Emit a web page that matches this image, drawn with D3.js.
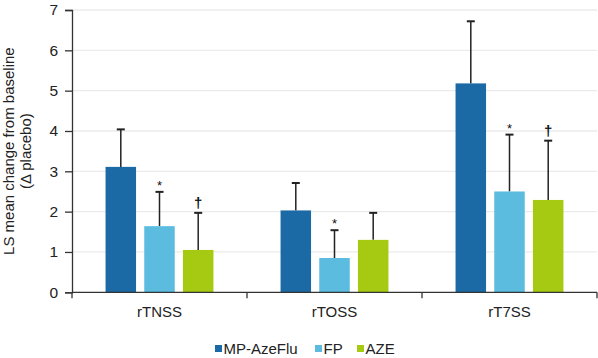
<!DOCTYPE html>
<html>
<head>
<meta charset="utf-8">
<script src="https://cdn.jsdelivr.net/npm/d3@7"></script>
<style>
	body { margin:0; background:#fff; }
	text { font-family: "Liberation Sans", Arial, sans-serif; }
</style>
</head>
<body>
<div class="chart"></div>
<script>
var categories = ["rTNSS","rTOSS","rT7SS"]
var series = ["MP-AzeFlu","FP","AZE"]
var colors = ["#1b6aa5","#5bbce0","#a6c912"]
var means = [[3.11,1.64,1.05],[2.03,0.85,1.30],[5.18,2.50,2.29]]
var errors = [[4.04,2.49,1.97],[2.71,1.54,1.97],[6.72,3.91,3.76]]
var marks = [["","*","\u2020"],["","*",""],["","*","\u2020"]]
var yTicks = [0,1,2,3,4,5,6,7]

var width = 598
var height = 358
var svg = d3.select(".chart").append("svg").attr("width",width).attr("height",height)

//scales
var x0 = d3.scaleBand().domain(categories).range([72,597]).paddingInner(0).paddingOuter(0)
var x1 = d3.scaleBand().domain(series).range([0,x0.bandwidth()]).paddingInner(0.212).paddingOuter(0.867)
var y = d3.scaleLinear().domain([0,7]).range([292.3,10])

//gridlines
svg.append("g").selectAll("line").data(yTicks.slice(1)).enter().append("line")
	.attr("x1",72).attr("x2",597)
	.attr("y1",function(d){return y(d)}).attr("y2",function(d){return y(d)})
	.attr("stroke","#ebebeb").attr("stroke-width",1.3)

//bars
categories.forEach(function(cat,i) {
	var group = svg.append("g").attr("class","group "+cat).attr("transform","translate("+x0(cat)+",0)")
	series.forEach(function(s,j) {
		var cx = x1(s) + x1.bandwidth()/2
		//error bar
		group.append("line").attr("x1",cx).attr("x2",cx)
			.attr("y1",y(means[i][j])).attr("y2",y(errors[i][j]))
			.attr("stroke","#222").attr("stroke-width",1.5)
		group.append("line").attr("x1",cx-4).attr("x2",cx+4)
			.attr("y1",y(errors[i][j])).attr("y2",y(errors[i][j]))
			.attr("stroke","#222").attr("stroke-width",2)
		group.append("rect")
			.attr("x",x1(s)).attr("width",x1.bandwidth())
			.attr("y",y(means[i][j])).attr("height",y(0)-y(means[i][j]))
			.attr("fill",colors[j])
		if(marks[i][j] != "") {
			group.append("text").attr("x",cx)
				.attr("y",y(errors[i][j]) - (marks[i][j]=="*" ? 2 : 5))
				.attr("text-anchor","middle").attr("fill","#111")
				.style("font-size",marks[i][j]=="*" ? "13px" : "15px")
				.style("font-weight",marks[i][j]=="*" ? "normal" : "bold")
				.text(marks[i][j])
		}
	})
})

//y axis
var yAxis = d3.axisLeft(y).tickValues(yTicks).tickSize(7).tickPadding(7).tickFormat(d3.format("d"))
var ya = svg.append("g").attr("transform","translate(72,0)").call(yAxis)
ya.select(".domain").attr("stroke","#333").attr("stroke-width",1.3)
ya.selectAll(".tick line").attr("stroke","#333").attr("stroke-width",1.3)
ya.selectAll(".tick text").style("font-size","15.5px").attr("fill","#222")

//x axis
var xa = svg.append("g").attr("transform","translate(0,"+y(0)+")")
xa.append("line").attr("x1",72).attr("x2",597).attr("stroke","#333").attr("stroke-width",1.3)
xa.selectAll("line.sep").data([72].concat(categories.map(function(c){return x0(c)+x0.bandwidth()}))).enter()
	.append("line").attr("class","sep")
	.attr("x1",function(d){return d}).attr("x2",function(d){return d})
	.attr("y1",0).attr("y2",6).attr("stroke","#333").attr("stroke-width",1.3)
xa.selectAll("text").data(categories).enter().append("text")
	.attr("x",function(d){return x0(d)+x0.bandwidth()/2})
	.attr("y",25).attr("text-anchor","middle").attr("fill","#222")
	.style("font-size","15px").text(function(d){return d})

//y title
var title = svg.append("text").attr("transform","translate(0,"+y(3.5)+") rotate(-90)")
	.attr("text-anchor","middle").attr("fill","#222").style("font-size","15px")
title.append("tspan").attr("x",0).attr("y",13.5).text("LS mean change from baseline")
title.append("tspan").attr("x",0).attr("y",31).text("(\u0394 placebo)")

//legend
var legendX = [215,315,357]
var legend = svg.append("g").attr("class","legend")
series.forEach(function(s,j) {
	legend.append("rect").attr("x",legendX[j]).attr("y",345).attr("width",7).attr("height",7).attr("fill",colors[j])
	legend.append("text").attr("x",legendX[j]+8.5).attr("y",353.5).attr("fill","#222")
		.style("font-size","15px").text(s)
})
</script>
</body>
</html>
